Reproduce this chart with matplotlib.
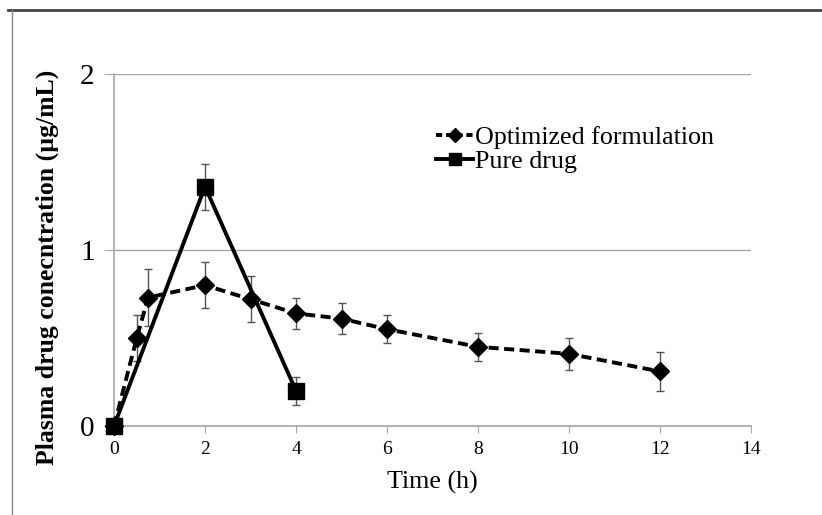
import numpy as np
import matplotlib
matplotlib.use('Agg')
import matplotlib.pyplot as plt
import matplotlib.ticker as ticker
from matplotlib.lines import Line2D

plt.rcParams['font.family'] = ['Liberation Serif', 'DejaVu Serif']

# data
t_opt = [0, 0.5, 0.75, 2, 3, 4, 5, 6, 8, 10, 12]
c_opt = [0, 0.50, 0.73, 0.80, 0.72, 0.64, 0.61, 0.55, 0.45, 0.41, 0.31]
e_opt = [0, 0.13, 0.16, 0.13, 0.13, 0.09, 0.09, 0.08, 0.08, 0.09, 0.11]

t_pure = [0, 2, 4]
c_pure = [0, 1.36, 0.20]
e_pure = [0, 0.13, 0.08]

x_ticks = [0, 2, 4, 6, 8, 10, 12, 14]
y_ticks = [0, 1, 2]

fig = plt.figure(figsize=(8.22, 5.15), dpi=100)
ax = fig.add_axes([0.1387, 0.1728, 0.775, 0.6835])

grey = '#a6a6a6'

l1 = ax.errorbar(t_opt, c_opt, yerr=e_opt, color='black', linestyle='--', dashes=(2.6, 1.4),
                 linewidth=2.8, marker='D', markersize=9.5, ecolor='#555555',
                 elinewidth=1, capsize=3, capthick=1, zorder=3)
l2 = ax.errorbar(t_pure, c_pure, yerr=e_pure, color='black', linestyle='-',
                 linewidth=2.8, marker='s', markersize=11, ecolor='#555555',
                 elinewidth=1, capsize=3, capthick=1, zorder=4)
for cont in (l1, l2):
    for art in cont.get_children():
        art.set_clip_on(False)

ax.set_xlim(0, 14)
ax.set_ylim(0, 2)
ax.set_xticks(x_ticks)
ax.set_yticks(y_ticks)
ax.tick_params(axis='x', labelsize=14, direction='out', length=5, color=grey, pad=6)
ax.tick_params(axis='y', labelsize=21, direction='out', length=7, color=grey, pad=7)

ax.grid(axis='y', color=grey, linewidth=1)
ax.set_axisbelow(True)
for s in ['top', 'right']:
    ax.spines[s].set_visible(False)
for s in ['left', 'bottom']:
    ax.spines[s].set_color(grey)
    ax.spines[s].set_linewidth(1.2)

ax.set_xlabel('Time (h)', fontsize=18.7, labelpad=9)
ax.set_ylabel('Plasma drug conecntration (µg/mL)', fontsize=18.5, fontweight='bold')
ax.yaxis.set_label_coords(-0.087, 0.45)

handles = [Line2D([], [], color='black', linestyle='--', dashes=(1.6, 1.0), linewidth=2.8,
                  marker='D', markersize=7),
           Line2D([], [], color='black', linestyle='-', linewidth=2.8,
                  marker='s', markersize=9)]
ax.legend(handles, ['Optimized formulation', 'Pure drug'], loc='upper left',
          bbox_to_anchor=(0.506, 0.853), frameon=False, fontsize=18.7,
          handlelength=1.4, handletextpad=0.1, labelspacing=0.05, borderpad=0,
          borderaxespad=0)

# outer frame lines (top and left)
fig.add_artist(Line2D([0.010, 1.0], [0.981, 0.981], transform=fig.transFigure,
                      color='#444444', linewidth=2))
fig.add_artist(Line2D([0.0146, 0.0146], [0.0, 0.981], transform=fig.transFigure,
                      color='#888888', linewidth=1))

fig.savefig('out.png', dpi=100)
